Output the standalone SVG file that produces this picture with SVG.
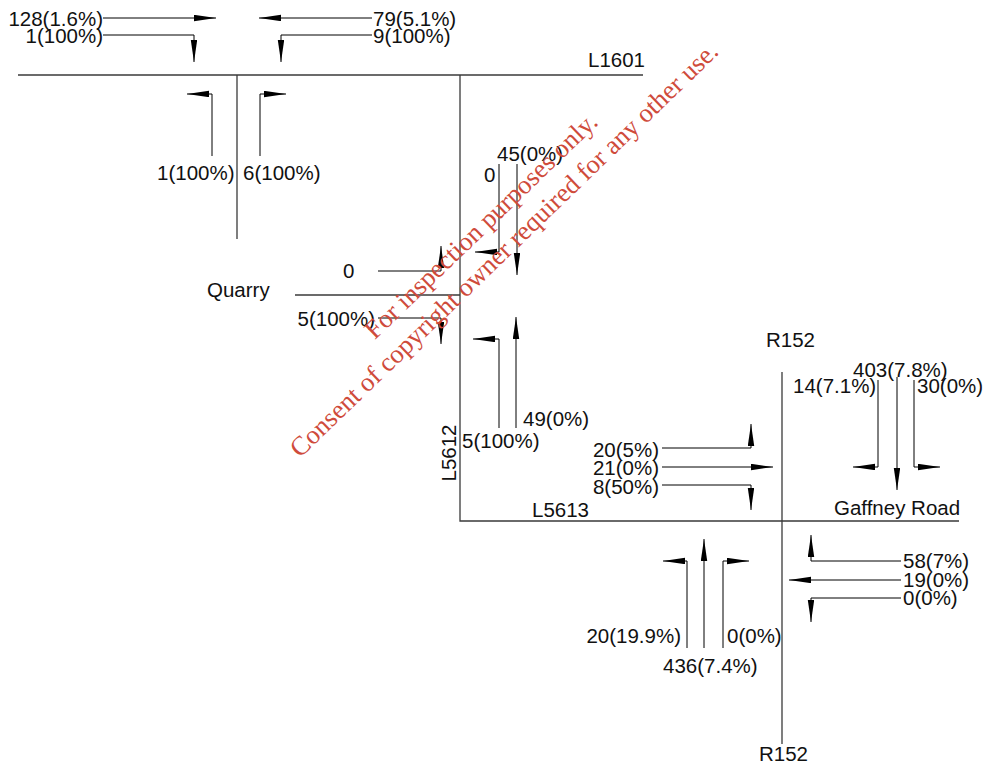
<svg xmlns="http://www.w3.org/2000/svg" width="985" height="764" viewBox="0 0 985 764">
<defs>
<marker id="ah" markerUnits="userSpaceOnUse" markerWidth="24" markerHeight="8" refX="22" refY="3.2" orient="auto">
<path d="M0,0 L22,3.2 L0,6.4 z" fill="#000"/>
</marker>
</defs>
<style>
.road{fill:none;stroke:#3a3a3a;stroke-width:1.3}
.arr{fill:none;stroke:#000;stroke-width:1;marker-end:url(#ah)}
text{font-family:"Liberation Sans",Arial,sans-serif;font-size:20.5px;fill:#111}
.e{text-anchor:end}
.wm{font-family:"Liberation Serif","Times New Roman",serif;font-size:26.5px;fill:#cf4b3b;text-anchor:middle}
</style>
<rect width="985" height="764" fill="#fff"/>
<g id="roads">
<path class="road" d="M18,75 H643"/>
<path class="road" d="M237,75 V239"/>
<path class="road" d="M460,75 V521 H959"/>
<path class="road" d="M295,295 H460"/>
<path class="road" d="M782,372 V744"/>
</g>
<g id="connectors">
<path class="arr" d="M103,18 H216"/>
<path class="arr" d="M103,35 H194 V62"/>
<path class="arr" d="M372,18 H259"/>
<path class="arr" d="M372,35 H281 V62"/>
<path class="arr" d="M212,156 V94 H187"/>
<path class="arr" d="M260,156 V94 H286"/>
<path class="arr" d="M378,271 H441 V246"/>
<path class="arr" d="M378,318 H441 V344"/>
<path class="arr" d="M499,164 V252 H475"/>
<path class="arr" d="M517,164 V275"/>
<path class="arr" d="M499,428 V339 H473"/>
<path class="arr" d="M516,428 V317"/>
<path class="arr" d="M662,448 H751 V424"/>
<path class="arr" d="M662,467 H773"/>
<path class="arr" d="M662,485 H751 V510"/>
<path class="arr" d="M878,380 V467 H853"/>
<path class="arr" d="M897,377 V490"/>
<path class="arr" d="M914,380 V467 H940"/>
<path class="arr" d="M687,648 V561 H663"/>
<path class="arr" d="M704,648 V539"/>
<path class="arr" d="M723,648 V561 H749"/>
<path class="arr" d="M901,561 H811 V535"/>
<path class="arr" d="M901,580 H789"/>
<path class="arr" d="M901,598 H811 V622"/>
</g>
<g id="L1601-west">
<text class="e" x="103" y="26">128(1.6%)</text>
<text class="e" x="103" y="43">1(100%)</text>
</g>
<g id="L1601-east">
<text x="373" y="26">79(5.1%)</text>
<text x="373" y="43">9(100%)</text>
</g>
<g id="side-road">
<text x="157" y="180">1(100%)</text>
<text x="243" y="180">6(100%)</text>
</g>
<g id="road-labels">
<text x="588" y="67">L1601</text>
<text x="207" y="297">Quarry</text>
<text transform="translate(456,453) rotate(-90)" text-anchor="middle">L5612</text>
<text x="532" y="517">L5613</text>
<text x="766" y="347">R152</text>
<text x="834" y="515">Gaffney Road</text>
<text x="759" y="761">R152</text>
</g>
<g id="quarry-approach">
<text x="343" y="278">0</text>
<text class="e" x="375" y="326">5(100%)</text>
</g>
<g id="L5612-north">
<text x="484" y="182">0</text>
<text x="497" y="161">45(0%)</text>
</g>
<g id="L5612-south">
<text x="523" y="426">49(0%)</text>
<text x="462" y="448">5(100%)</text>
</g>
<g id="R152-west">
<text class="e" x="659" y="457">20(5%)</text>
<text class="e" x="659" y="475">21(0%)</text>
<text class="e" x="659" y="494">8(50%)</text>
</g>
<g id="R152-north">
<text x="853" y="377">403(7.8%)</text>
<text x="793" y="393">14(7.1%)</text>
<text x="917" y="393">30(0%)</text>
</g>
<g id="R152-south">
<text class="e" x="681" y="643">20(19.9%)</text>
<text x="727" y="643">0(0%)</text>
<text x="663" y="673">436(7.4%)</text>
</g>
<g id="R152-east">
<text x="903" y="568">58(7%)</text>
<text x="903" y="587">19(0%)</text>
<text x="903" y="605">0(0%)</text>
</g>
<g id="watermark" transform="translate(487,232) rotate(-44)">
<text class="wm" x="0" y="0">For inspection purposes only.</text>
<text class="wm" x="0" y="33">Consent of copyright owner required for any other use.</text>
</g>
</svg>
